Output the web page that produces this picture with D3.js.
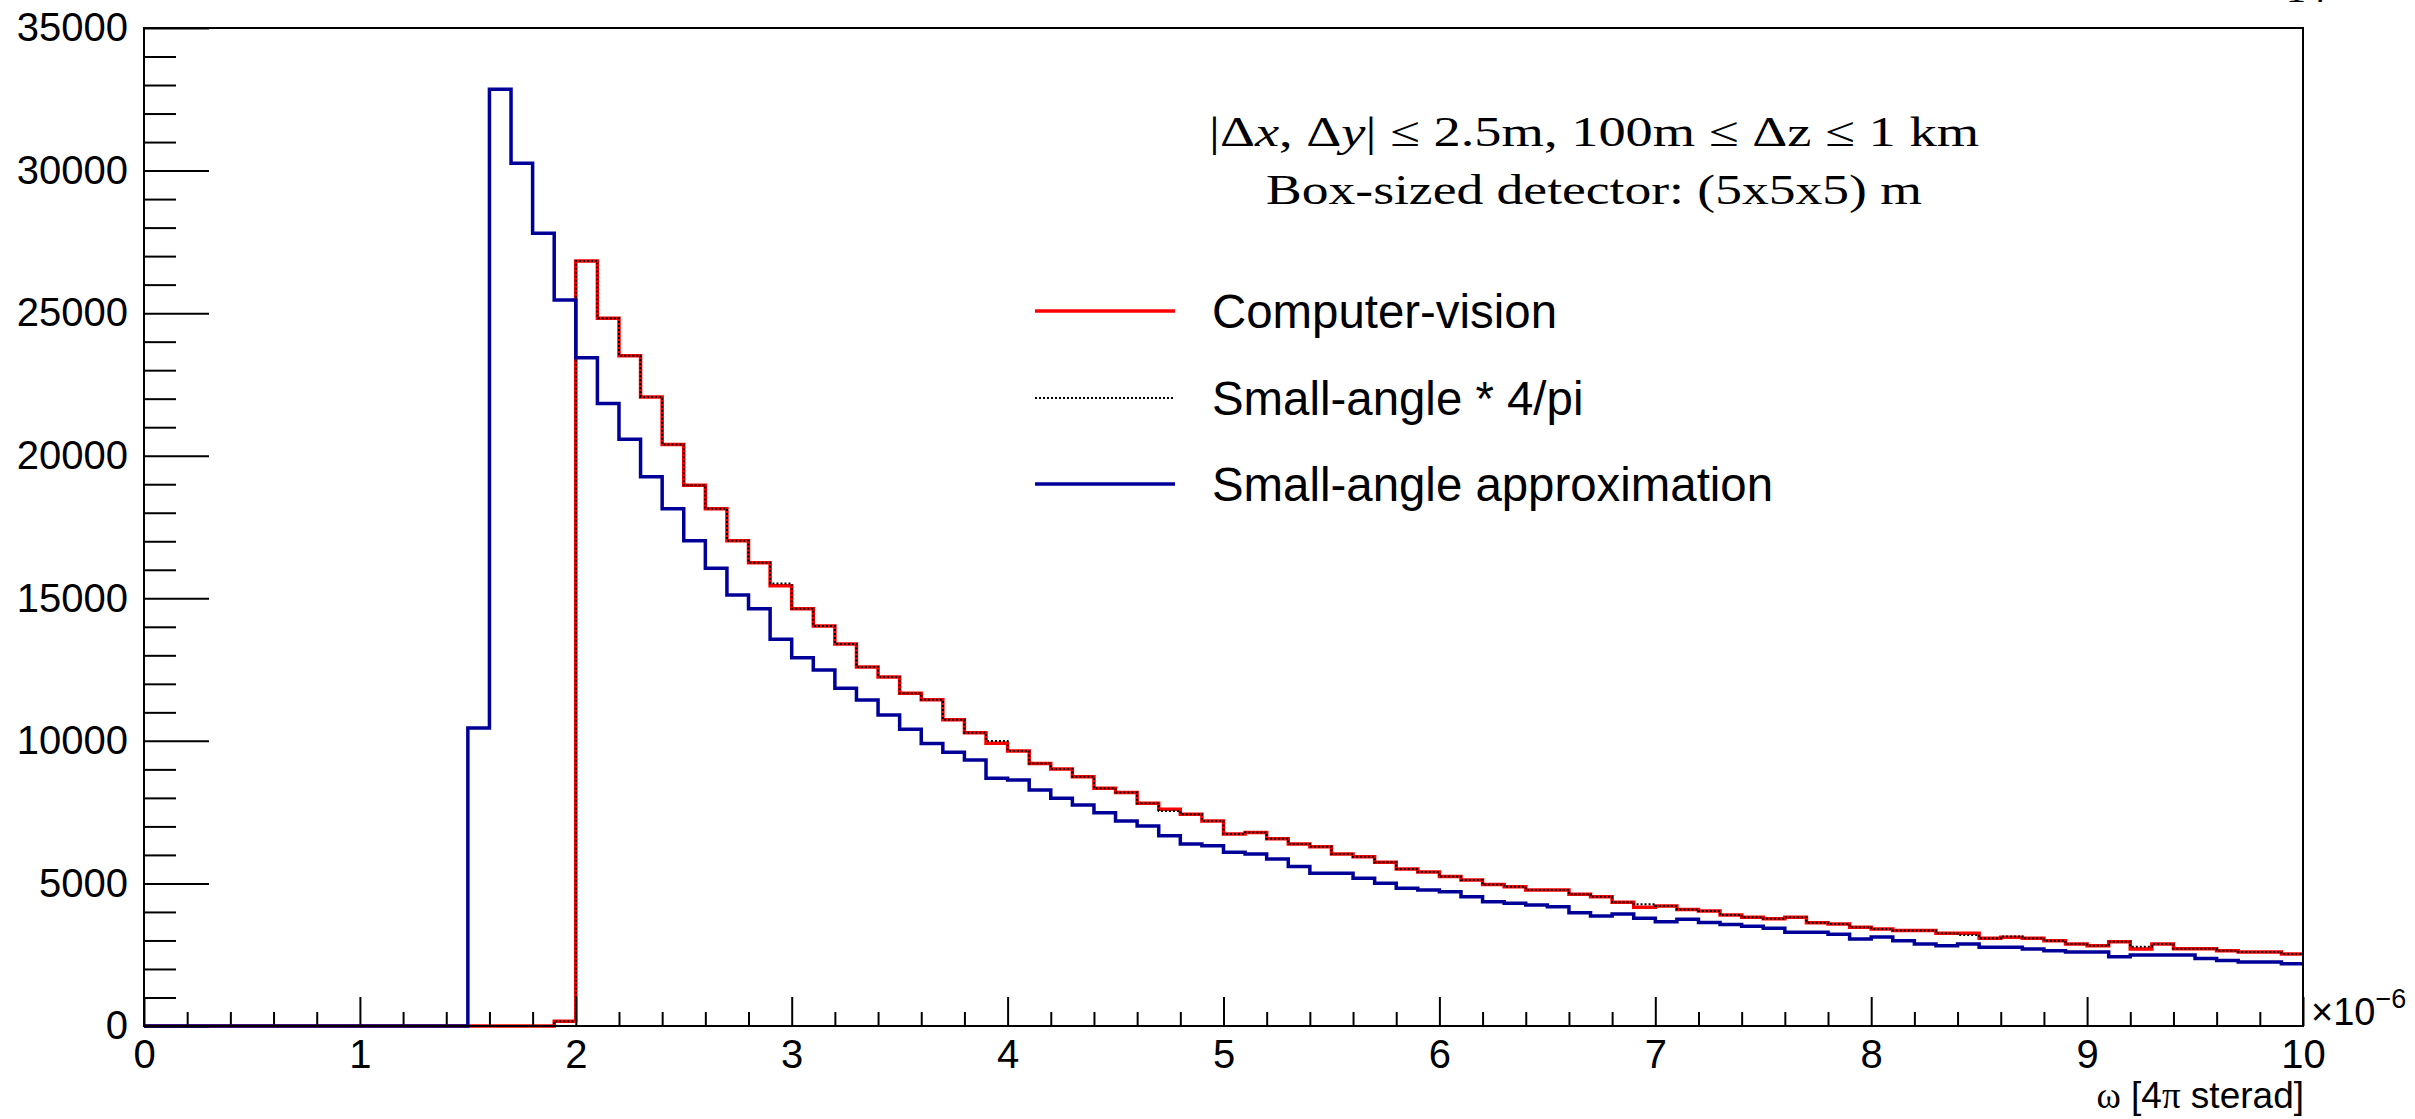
<!DOCTYPE html>
<html>
<head>
<meta charset="utf-8">
<script src="https://cdn.jsdelivr.net/npm/d3@7"></script>
<style>
  html, body { margin: 0; padding: 0; background: #fff; }
  svg { display: block; }
  .tick text { font-family: "Liberation Sans", Arial, sans-serif; font-size: 40px; fill: #000; }
  .tick line { stroke: #000; stroke-width: 2px; }
</style>
</head>
<body>
<div id="chart"></div>
<script>
// histogram binning, in units of 1e-6 (4π sterad)
const BIN_START = 0;
const BIN_WIDTH = 0.1;

// Computer-vision counts per bin (100 bins, 0 .. 10)
const computerVision = [
  0, 0, 0, 0, 0, 0, 0, 0, 0, 0,
  0, 0, 0, 0, 0, 0, 0, 0, 0, 170,
  26830, 24820, 23510, 22060, 20390, 18960, 18140, 17020, 16250, 15440,
  14635, 14030, 13400, 12590, 12240, 11670, 11440, 10740, 10285, 9915,
  9645, 9210, 9015, 8745, 8335, 8185, 7810, 7600, 7425, 7190,
  6735, 6790, 6570, 6380, 6290, 6030, 5940, 5740, 5505, 5400,
  5240, 5120, 4960, 4885, 4770, 4770, 4620, 4535, 4340, 4165,
  4210, 4090, 4035, 3895, 3810, 3765, 3810, 3625, 3575, 3460,
  3400, 3345, 3345, 3250, 3250, 3075, 3110, 3075, 2990, 2875,
  2815, 2955, 2700, 2875, 2710, 2710, 2640, 2595, 2595, 2525
];

// Small-angle * 4/pi (dotted, lies almost on top of the red one)
const smallAngleScaled = [
  0, 0, 0, 0, 0, 0, 0, 0, 0, 0,
  0, 0, 0, 0, 0, 0, 0, 0, 0, 170,
  26830, 24820, 23510, 22060, 20390, 18960, 18140, 17020, 16250, 15520,
  14635, 14030, 13400, 12590, 12240, 11670, 11440, 10740, 10285, 9995,
  9645, 9210, 9015, 8745, 8335, 8185, 7810, 7540, 7425, 7190,
  6735, 6790, 6570, 6380, 6290, 6030, 5940, 5740, 5505, 5400,
  5240, 5120, 4960, 4885, 4770, 4770, 4620, 4535, 4340, 4270,
  4210, 4090, 4035, 3895, 3810, 3765, 3810, 3625, 3575, 3460,
  3400, 3345, 3345, 3250, 3190, 3075, 3140, 3075, 2990, 2875,
  2815, 2955, 2780, 2875, 2710, 2710, 2640, 2595, 2595, 2525
];

// Small-angle approximation counts per bin
const smallAngle = [
  0, 0, 0, 0, 0, 0, 0, 0, 0, 0,
  0, 0, 0, 0, 0, 10450, 32850, 30255, 27800, 25460,
  23440, 21830, 20575, 19265, 18140, 17020, 16050, 15115, 14635, 13560,
  12915, 12485, 11845, 11430, 10905, 10405, 9905, 9600, 9330, 8685,
  8630, 8275, 7985, 7750, 7480, 7190, 7015, 6675, 6380, 6325,
  6090, 6030, 5855, 5590, 5355, 5355, 5180, 5005, 4830, 4770,
  4710, 4535, 4360, 4305, 4245, 4185, 3975, 3860, 3930, 3775,
  3660, 3740, 3630, 3560, 3500, 3425, 3285, 3285, 3215, 3050,
  3120, 2990, 2875, 2815, 2875, 2760, 2760, 2700, 2640, 2595,
  2595, 2430, 2490, 2490, 2490, 2370, 2300, 2245, 2245, 2185
];

const xMajorTicks = [0, 1, 2, 3, 4, 5, 6, 7, 8, 9, 10];
const yMajorTicks = [0, 5000, 10000, 15000, 20000, 25000, 30000, 35000];

const legendItems = [
  { label: "Computer-vision", color: "#ff0000", dash: null },
  { label: "Small-angle * 4/pi", color: "#000000", dash: "2,2" },
  { label: "Small-angle approximation", color: "#000099", dash: null }
];

const W = 2415, H = 1119;
const margin = { left: 144, right: 112, top: 28, bottom: 93 };

const svg = d3.select("#chart").append("svg")
  .attr("width", W).attr("height", H)
  .style("font-family", "'Liberation Sans', Arial, sans-serif");

svg.append("rect").attr("width", W).attr("height", H).attr("fill", "#fff");

const x = d3.scaleLinear().domain([0, 10]).range([margin.left, W - margin.right]);
const y = d3.scaleLinear().domain([0, 35000]).range([H - margin.bottom, margin.top]);

svg.append("clipPath").attr("id", "plotclip").append("rect")
  .attr("x", x(0)).attr("y", y(35000) - 2)
  .attr("width", x(10) - x(0)).attr("height", y(0) - y(35000) + 4);

// step path through bin edges
function histPoints(values) {
  const pts = values.map((v, i) => [BIN_START + i * BIN_WIDTH, v]);
  pts.push([BIN_START + values.length * BIN_WIDTH, values[values.length - 1]]);
  return pts;
}
const step = d3.line().x(d => x(d[0])).y(d => y(d[1])).curve(d3.curveStepAfter);

const plot = svg.append("g").attr("clip-path", "url(#plotclip)");

plot.append("path").attr("d", step(histPoints(computerVision)))
  .attr("fill", "none").attr("stroke", "#ff0000").attr("stroke-width", 3.5);
plot.append("path").attr("d", step(histPoints(smallAngleScaled)))
  .attr("fill", "none").attr("stroke", "#000").attr("stroke-width", 2)
  .attr("stroke-dasharray", "2,2");
plot.append("path").attr("d", step(histPoints(smallAngle)))
  .attr("fill", "none").attr("stroke", "#000099").attr("stroke-width", 3.5);

// axes (ROOT style: ticks inward)
const xMinor = d3.range(0, 10.001, 0.2).filter(v => Math.abs(v - Math.round(v)) > 1e-6);
const yMinor = d3.range(0, 35001, 1000).filter(v => v % 5000 !== 0);

svg.append("g").attr("transform", `translate(0,${y(0)})`)
  .call(d3.axisBottom(x).tickValues(xMinor).tickSize(-14).tickFormat(""))
  .call(g => g.select(".domain").remove());
svg.append("g").attr("transform", `translate(0,${y(0)})`)
  .call(d3.axisBottom(x).tickValues(xMajorTicks).tickSize(-29).tickPadding(14).tickFormat(d3.format("d")))
  .call(g => g.select(".domain").remove());

svg.append("g").attr("transform", `translate(${x(0)},0)`)
  .call(d3.axisLeft(y).tickValues(yMinor).tickSize(-32).tickFormat(""))
  .call(g => g.select(".domain").remove());
svg.append("g").attr("transform", `translate(${x(0)},0)`)
  .call(d3.axisLeft(y).tickValues(yMajorTicks).tickSize(-65).tickPadding(16).tickFormat(d3.format("d")))
  .call(g => g.select(".domain").remove());

// frame
svg.append("rect")
  .attr("x", x(0)).attr("y", y(35000))
  .attr("width", x(10) - x(0)).attr("height", y(0) - y(35000))
  .attr("fill", "none").attr("stroke", "#000").attr("stroke-width", 2);

// exponent and axis title
const expo = svg.append("text").attr("x", x(10) + 8).attr("y", y(0) - 1)
  .attr("font-size", 38).attr("fill", "#000");
expo.append("tspan").text("×10");
expo.append("tspan").attr("font-size", 27).attr("dy", -17).text("−6");

const xt = svg.append("text").attr("x", x(10) + 1).attr("y", 1108)
  .attr("text-anchor", "end").attr("font-size", 37).attr("fill", "#000");
xt.append("tspan").attr("font-family", "'Liberation Serif', serif").text("ω");
xt.append("tspan").text(" [4");
xt.append("tspan").attr("font-family", "'Liberation Serif', serif").text("π");
xt.append("tspan").text(" sterad]");

// annotation
const serif = "'Liberation Serif', 'DejaVu Serif', serif";
const a1 = svg.append("text").attr("x", 1594).attr("y", 146)
  .attr("text-anchor", "middle").attr("font-family", serif).attr("font-size", 42)
  .attr("textLength", 770).attr("lengthAdjust", "spacingAndGlyphs");
a1.append("tspan").text("|Δ");
a1.append("tspan").attr("font-style", "italic").text("x");
a1.append("tspan").text(", Δ");
a1.append("tspan").attr("font-style", "italic").text("y");
a1.append("tspan").text("| ≤ 2.5m, 100m ≤ Δz ≤ 1 km");

svg.append("text").attr("x", 1594).attr("y", 204)
  .attr("text-anchor", "middle").attr("font-family", serif).attr("font-size", 42)
  .attr("textLength", 656).attr("lengthAdjust", "spacingAndGlyphs")
  .text("Box-sized detector: (5x5x5) m");

// legend
const legend = svg.append("g");
const rowY = [311, 398, 484];
legendItems.forEach((d, i) => {
  if (i === 1) {
    legend.append("line").attr("x1", 1035).attr("x2", 1175).attr("y1", rowY[i]).attr("y2", rowY[i])
      .attr("stroke", "#000").attr("stroke-width", 2).attr("stroke-dasharray", d.dash);
  } else {
    legend.append("line").attr("x1", 1035).attr("x2", 1175).attr("y1", rowY[i]).attr("y2", rowY[i])
      .attr("stroke", d.color).attr("stroke-width", 3.5);
  }
  legend.append("text").attr("x", 1212).attr("y", rowY[i])
    .attr("dominant-baseline", "central").attr("font-size", 47.4).attr("fill", "#000")
    .text(d.label);
});

// page number, cut by the top edge as in the source
svg.append("text").attr("x", 2286).attr("y", 2)
  .attr("font-family", "'Liberation Serif', serif").attr("font-size", 40).text("14");
</script>
</body>
</html>
